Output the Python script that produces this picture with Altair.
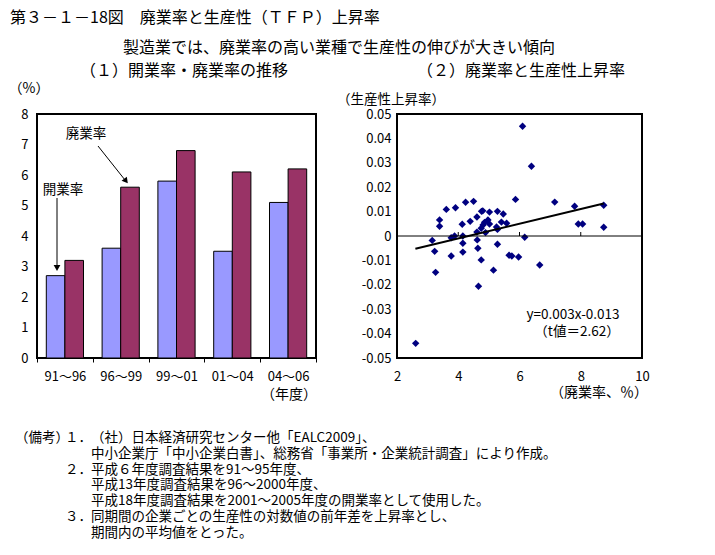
import altair as alt
import pandas as pd

FONT = "Noto Sans CJK JP"

# ---------------- data ----------------
periods = ["91～96", "96～99", "99～01", "01～04", "04～06"]
series_names = ["開業率", "廃業率"]
entry_rate = [2.7, 3.6, 5.8, 3.5, 5.1]
exit_rate = [3.2, 5.6, 6.8, 6.1, 6.2]

scatter_exit = [6.10, 6.39, 5.87, 7.15, 7.80, 8.75, 7.92, 8.06, 8.75, 6.17,
                6.66, 5.97, 5.66, 5.75, 2.61, 3.15, 3.23, 3.26, 3.61, 3.39,
                3.39, 3.91, 4.24, 4.50, 3.77, 3.77, 3.88, 4.13, 4.15, 4.15,
                4.15, 4.39, 4.61, 4.62, 4.64, 4.66, 4.75, 4.76, 4.80, 4.61,
                4.75, 4.81, 4.89, 4.97, 5.02, 5.02, 5.15, 5.28, 5.25, 5.28,
                5.28, 5.47, 5.41, 5.58, 4.86]
scatter_tfp = [0.0450, 0.0286, 0.0150, 0.0139, 0.0122, 0.0126, 0.0049, 0.0049, 0.0036, -0.0005,
               -0.0119, -0.0086, -0.0079, -0.0082, -0.0440, -0.0018, -0.0063, -0.0149, 0.0109, 0.0066,
               0.0040, 0.0116, 0.0138, 0.0142, -0.0082, -0.0007, 0.0000, 0.0048, -0.0030, -0.0066,
               0.0000, 0.0060, 0.0078, -0.0016, -0.0050, -0.0206, -0.0098, 0.0101, 0.0103, 0.0016,
               0.0032, 0.0045, 0.0014, 0.0066, 0.0049, 0.0098, -0.0140, 0.0101, 0.0037, 0.0027,
               -0.0034, 0.0090, 0.0057, 0.0052, 0.0056]
trend_x = [2.6, 8.75]
trend_y = [-0.0052, 0.0133]

left_y_ticks = [0, 1, 2, 3, 4, 5, 6, 7, 8]
right_x_ticks = [2, 4, 6, 8, 10]
right_y_ticks = [0.05, 0.04, 0.03, 0.02, 0.01, 0, -0.01, -0.02, -0.03, -0.04, -0.05]
zero_line_ticks = [4, 6, 8]

title_text = "第３－１－18図　廃業率と生産性（ＴＦＰ）上昇率"
subtitle_text = "製造業では、廃業率の高い業種で生産性の伸びが大きい傾向"
panel1_title = "（１）開業率・廃業率の推移"
panel2_title = "（２）廃業率と生産性上昇率"
left_unit = "（%）"
left_xunit = "（年度）"
right_ytitle = "（生産性上昇率）"
right_xtitle = "（廃業率、％）"
eq_text = "y=0.003x-0.013"
t_text = "（t値＝2.62）"
notes_head = "（備考）"
notes_nums = ["１．", "", "２．", "", "", "３．", ""]
notes_lines = [
    "（社）日本経済研究センター他「EALC2009」、",
    "中小企業庁「中小企業白書」、総務省「事業所・企業統計調査」により作成。",
    "平成６年度調査結果を91～95年度、",
    "平成13年度調査結果を96～2000年度、",
    "平成18年度調査結果を2001～2005年度の開業率として使用した。",
    "同期間の企業ごとの生産性の対数値の前年差を上昇率とし、",
    "期間内の平均値をとった。",
]

# ---------------- helpers ----------------
ONE = alt.Data(values=[{}])


def label(text, x, y, size=13, align="center", baseline="middle"):
    return alt.Chart(ONE).mark_text(
        text=text, font=FONT, fontSize=size, align=align, baseline=baseline,
        color="black"
    ).encode(x=alt.value(x), y=alt.value(y))


def seg(x1, y1, x2, y2, width=1.0, opacity=1.0):
    return alt.Chart(ONE).mark_rule(
        color="black", strokeWidth=width, opacity=opacity
    ).encode(x=alt.value(x1), y=alt.value(y1), x2=alt.value(x2), y2=alt.value(y2))


def head(x, y, shape, angle=0):
    return alt.Chart(ONE).mark_point(
        shape=shape, filled=True, size=45, color="black", opacity=1, angle=angle
    ).encode(x=alt.value(x), y=alt.value(y))


LX, LY = 36, 113      # page origin of left plot
W1, H = 279, 244
RX = 396              # page origin x of right plot
W2 = 245

# ---------------- left panel ----------------
bar_df = pd.DataFrame({
    "period": periods * 2,
    "series": [series_names[0]] * len(periods) + [series_names[1]] * len(periods),
    "value": entry_rate + exit_rate,
})

axis_common = dict(labelFont=FONT, labelFontSize=13, labelColor="black",
                   tickColor="black", grid=False, domain=False, title=None)

bars = alt.Chart(bar_df).mark_bar(stroke="black", strokeWidth=1).encode(
    x=alt.X("period:N", sort=periods,
            scale=alt.Scale(paddingInner=0, paddingOuter=0),
            axis=alt.Axis(labelAngle=0, tickBand="extent", tickSize=4,
                          labelPadding=8, **axis_common)),
    xOffset=alt.XOffset("series:N", sort=series_names,
                        scale=alt.Scale(paddingInner=0, paddingOuter=0.5)),
    y=alt.Y("value:Q", scale=alt.Scale(domain=[0, 8], nice=False),
            axis=alt.Axis(values=left_y_ticks, ticks=False, labelPadding=9,
                          **axis_common)),
    color=alt.Color("series:N", sort=series_names,
                    scale=alt.Scale(domain=series_names, range=["#9999FF", "#993366"]),
                    legend=None),
)

def L(px, py):
    return px - LX, py - LY

notes_layers = []
for i, (num, line) in enumerate(zip(notes_nums, notes_lines)):
    py = 437 + i * 15.8
    if i == 0:
        notes_layers.append(label(notes_head, *L(14, py), size=13.5, align="left"))
    if num:
        notes_layers.append(label(num, *L(64, py), size=13.5, align="left"))
    notes_layers.append(label(line, *L(90, py), size=13.5, align="left"))

left = alt.layer(
    bars,
    # invisible anchor at page (0,0)
    seg(-LX, -LY, -LX + 1, -LY, opacity=0),
    label(title_text, *L(9, 17), size=16, align="left"),
    label(subtitle_text, *L(338, 47), size=16),
    label(panel1_title, *L(183, 70), size=16),
    label(panel2_title, *L(520, 70), size=16),
    label(left_unit, *L(28, 88), size=14),
    label(left_xunit, *L(288, 394), size=14),
    label(series_names[1], *L(85, 133), size=13.5),
    label(series_names[0], *L(62, 189), size=13.5),
    seg(*L(97, 145), *L(124, 179)),
    head(*L(125, 180), "triangle-up", angle=142),
    seg(*L(56, 197), *L(56, 266)),
    head(*L(56, 267), "triangle-down"),
    *notes_layers,
).properties(width=W1, height=H)

# ---------------- right panel ----------------
scatter_df = pd.DataFrame({"exit": scatter_exit, "tfp": scatter_tfp})
trend_df = pd.DataFrame({"exit": trend_x, "tfp": trend_y})
zt_df = pd.DataFrame({"exit": zero_line_ticks})

xscale = alt.Scale(domain=[2, 10], nice=False)
yscale = alt.Scale(domain=[-0.05, 0.05], nice=False)

ylabel_expr = "datum.value == 0 ? '0' : replace(format(datum.value, '.2f'), '\u2212', '-')"

xaxis_r = alt.Axis(values=right_x_ticks, ticks=False, labelPadding=12,
                   labelFlush=False, **axis_common)
yaxis_r = alt.Axis(values=right_y_ticks, ticks=False, labelPadding=6,
                   labelExpr=ylabel_expr, labelFlush=False, **axis_common)

points = alt.Chart(scatter_df).mark_point(
    shape="diamond", filled=True, size=55, color="#000080", opacity=1
).encode(
    x=alt.X("exit:Q", scale=xscale, axis=xaxis_r),
    y=alt.Y("tfp:Q", scale=yscale, axis=yaxis_r),
)

zero_line = alt.Chart(ONE).mark_rule(color="black", strokeWidth=1).encode(
    y=alt.YDatum(0, scale=yscale, axis=yaxis_r)
)
zero_ticks = alt.Chart(zt_df).mark_rule(color="black", strokeWidth=1).encode(
    x=alt.X("exit:Q", scale=xscale, axis=xaxis_r),
    y=alt.YDatum(0, scale=yscale, axis=yaxis_r),
    y2=alt.value((H / 2) - 4),
)
trend = alt.Chart(trend_df).mark_line(color="black", strokeWidth=2).encode(
    x=alt.X("exit:Q", scale=xscale, axis=xaxis_r),
    y=alt.Y("tfp:Q", scale=yscale, axis=yaxis_r),
)

def R(px, py):
    return px - RX, py - LY

right = alt.layer(
    points,
    zero_line,
    zero_ticks,
    trend,
    label(right_ytitle, *R(390, 99), size=13.5),
    label(right_xtitle, *R(598, 392), size=14),
    label(eq_text, *R(572, 314), size=13.5),
    label(t_text, *R(576, 330.5), size=13.5),
).properties(width=W2, height=H)

chart = alt.hconcat(left, right, spacing=RX - LX - W1, bounds="flush").configure_view(
    stroke="black", strokeWidth=2
).properties(padding=0, background="white")

chart.save("out.html", embed_options={"renderer": "svg", "actions": False})
